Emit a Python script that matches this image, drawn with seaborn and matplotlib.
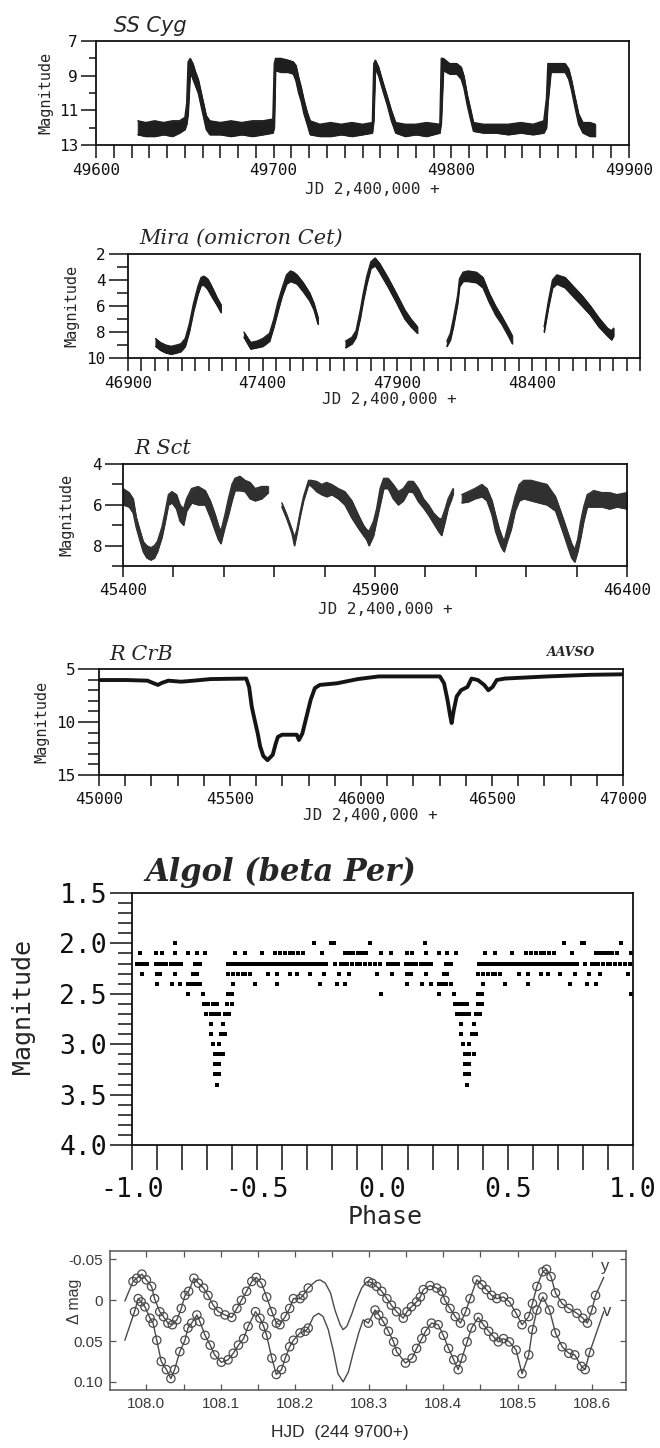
import numpy as np
import pandas as pd
import matplotlib
matplotlib.use("Agg")
import matplotlib.pyplot as plt
import seaborn as sns
from matplotlib.ticker import MultipleLocator, FixedLocator

sns.set_style("ticks")
plt.rcParams['font.family'] = ['DejaVu Sans Mono', 'DejaVu Sans']

# ---------------- DATA ----------------
# SS Cyg : JD, bright edge, faint edge of the scatter band
ss_jd = [49623.5, 49628, 49633, 49638, 49643, 49647, 49650, 49651, 49651.8, 49653, 49654.5, 49656,
         49657.5, 49659, 49660.5, 49662, 49664, 49670, 49676, 49682, 49688, 49694, 49699.5, 49700.3,
         49701, 49704, 49708, 49711, 49712.5, 49714, 49715.5, 49717, 49718.8, 49720.5, 49726, 49732,
         49738, 49744, 49750, 49755.5, 49756.3, 49757.2, 49759, 49761.5, 49763.9, 49766.2, 49768.6,
         49774, 49780, 49786, 49793.5, 49794.3, 49795.5, 49799, 49803, 49805.5, 49807, 49808.9,
         49810.7, 49812.4, 49818, 49825, 49832, 49839, 49846, 49852, 49853.5, 49854.3, 49856, 49860,
         49864, 49866, 49867.5, 49869.3, 49871.6, 49874, 49878, 49881]
ss_bright = [11.6, 11.7, 11.6, 11.7, 11.6, 11.6, 11.4, 10.6, 8.2, 8.0, 8.3, 8.8,
             9.2, 9.9, 10.6, 11.3, 11.6, 11.7, 11.6, 11.7, 11.6, 11.6, 11.5, 8.3,
             8.0, 8.0, 8.1, 8.2, 8.4, 9.1, 9.7, 10.4, 11.1, 11.6, 11.8, 11.7,
             11.8, 11.7, 11.8, 11.7, 8.3, 8.1, 8.5, 9.4, 10.2, 11.0, 11.7,
             11.8, 11.8, 11.7, 11.8, 8.0, 8.0, 8.3, 8.3, 8.5, 9.0, 10.1,
             10.9, 11.7, 11.8, 11.8, 11.8, 11.7, 11.8, 11.6, 10.3, 8.3, 8.3, 8.3,
             8.3, 8.6, 9.2, 10.1, 11.2, 11.7, 11.7, 11.8]
ss_faint = [12.4, 12.5, 12.5, 12.4, 12.5, 12.3, 12.1, 11.8, 11.2, 8.8, 9.2, 9.6,
            10.0, 10.7, 11.4, 12.1, 12.4, 12.4, 12.5, 12.4, 12.5, 12.4, 12.3, 12.0,
            8.7, 8.8, 8.8, 8.9, 9.3, 10.0, 10.5, 11.2, 11.8, 12.4, 12.5, 12.5,
            12.4, 12.5, 12.4, 12.3, 11.6, 8.6, 9.0, 9.9, 10.7, 11.6, 12.3,
            12.5, 12.4, 12.5, 12.3, 11.7, 8.7, 8.9, 8.9, 9.2, 9.7, 10.7,
            11.5, 12.2, 12.3, 12.3, 12.4, 12.3, 12.4, 12.3, 12.0, 10.6, 8.8, 8.8,
            8.8, 9.2, 9.8, 10.7, 11.8, 12.3, 12.5, 12.5]
ss_seg = [0] * len(ss_jd)

# Mira
mira_jd = [47002, 47020, 47040, 47060, 47080, 47096, 47112, 47127, 47143, 47159, 47171, 47182, 47195,
           47206, 47220, 47229, 47245,
           47330, 47355, 47378, 47400, 47425, 47441, 47456, 47472, 47488, 47503, 47515, 47527, 47550,
           47574, 47590, 47605,
           47707, 47731, 47746, 47762, 47773, 47786, 47801, 47817, 47833, 47864, 47895, 47927, 47950, 47974,
           48083, 48096, 48107, 48123, 48130, 48143, 48162, 48193, 48217, 48240, 48264, 48287, 48311, 48326,
           48444, 48460, 48475, 48491, 48522, 48553, 48585, 48616, 48647, 48679, 48694, 48702]
mira_bright = [8.5, 8.8, 9.0, 9.1, 9.0, 8.9, 8.5, 7.4, 5.8, 4.5, 3.8, 3.7, 3.9,
               4.3, 4.9, 5.3, 5.9,
               8.0, 8.8, 8.7, 8.5, 8.1, 7.0, 5.7, 4.6, 3.6, 3.3, 3.4, 3.6, 4.2,
               5.0, 5.8, 6.9,
               8.7, 8.4, 7.9, 6.3, 5.0, 3.7, 2.6, 2.3, 2.7, 3.8, 5.0, 6.3, 7.0, 7.6,
               8.7, 8.1, 7.0, 5.2, 3.9, 3.4, 3.3, 3.4, 3.8, 5.0, 6.0, 6.8, 7.7, 8.3,
               7.6, 5.6, 4.0, 3.6, 3.8, 4.5, 5.2, 6.0, 6.9, 7.7, 7.9, 7.7]
mira_faint = [9.1, 9.4, 9.6, 9.7, 9.6, 9.5, 9.1, 8.0, 6.4, 5.1, 4.4, 4.4, 4.7,
              5.1, 5.6, 5.9, 6.5,
              8.4, 9.3, 9.2, 9.1, 8.7, 7.6, 6.4, 5.2, 4.3, 4.1, 4.2, 4.3, 4.9,
              5.6, 6.3, 7.4,
              9.2, 8.9, 8.4, 6.9, 5.6, 4.3, 3.1, 2.9, 3.4, 4.5, 5.7, 7.0, 7.6, 8.1,
              9.1, 8.6, 7.6, 5.8, 4.5, 4.1, 4.1, 4.2, 4.6, 5.7, 6.7, 7.4, 8.3, 8.9,
              8.0, 6.1, 4.6, 4.3, 4.6, 5.3, 6.0, 6.7, 7.6, 8.3, 8.6, 8.3]
mira_seg = [1] * 17 + [2] * 16 + [3] * 14 + [4] * 14 + [5] * 12

# R Sct
rsct_jd = [45400, 45412, 45420, 45426, 45434, 45440, 45447, 45455, 45462, 45468, 45477, 45483, 45490,
           45497, 45506, 45513, 45520, 45526, 45536, 45549, 45563, 45573, 45583, 45589, 45594, 45602,
           45609, 45616, 45622, 45632, 45642, 45652, 45662, 45675, 45688,
           45715, 45725, 45735, 45740, 45745, 45751, 45758, 45768, 45774, 45784, 45794, 45804, 45814,
           45827, 45840, 45854, 45867, 45877, 45883, 45888, 45897, 45903, 45910, 45917, 45926, 45936,
           45946, 45956, 45966, 45976, 45986, 45996, 46006, 46016, 46026, 46032, 46039, 46045, 46052, 46055,
           46072, 46085, 46098, 46112, 46122, 46132, 46139, 46146, 46151, 46156, 46162, 46170, 46178,
           46186, 46195, 46210, 46225, 46241, 46258, 46268, 46275, 46283, 46290, 46296, 46302, 46308,
           46314, 46321, 46334, 46350, 46365, 46380, 46400]
rsct_bright = [5.2, 5.4, 5.7, 6.6, 7.3, 7.8, 8.0, 8.1, 8.0, 7.8, 7.1, 6.4, 5.5,
               5.35, 5.5, 6.0, 6.2, 5.7, 5.2, 5.1, 5.3, 5.8, 6.5, 7.0, 7.3, 6.5,
               5.7, 5.0, 4.7, 4.6, 4.8, 4.9, 5.2, 5.1, 5.1,
               5.9, 6.5, 7.2, 7.6, 7.2, 6.4, 5.6, 4.8, 4.8, 4.85, 5.0, 4.9, 5.0,
               5.2, 5.35, 5.8, 6.5, 7.0, 7.2, 7.3, 6.8, 6.2, 5.2, 4.7, 4.7, 5.0,
               5.35, 5.2, 4.85, 4.85, 5.2, 5.7, 6.0, 6.4, 6.65, 6.7, 6.2, 5.7, 5.35, 5.2,
               5.5, 5.35, 5.2, 5.0, 5.2, 5.8, 6.5, 7.15, 7.5, 7.8, 7.2, 6.4, 5.6,
               5.0, 4.8, 4.8, 4.9, 5.0, 5.6, 6.3, 6.8, 7.4, 7.9, 8.2, 7.7, 6.8,
               6.1, 5.5, 5.3, 5.4, 5.4, 5.5, 5.4]
rsct_faint = [6.0, 6.1, 6.4, 7.1, 7.8, 8.3, 8.6, 8.7, 8.6, 8.3, 7.6, 6.9, 6.0,
              5.9, 6.2, 6.8, 7.0, 6.3, 5.9, 6.0, 6.0, 6.6, 7.3, 7.7, 7.9, 7.1,
              6.5, 5.8, 5.3, 5.3, 5.35, 5.7, 5.8, 5.7, 5.4,
              6.1, 6.7, 7.4, 8.0, 7.4, 6.6, 5.8, 5.0, 5.1, 5.35, 5.5, 5.6, 5.5,
              5.7, 6.0, 6.65, 7.15, 7.5, 7.7, 8.0, 7.5, 6.8, 6.0, 5.2, 5.2, 5.7,
              6.0, 5.8, 5.35, 5.4, 5.85, 6.15, 6.5, 6.9, 7.3, 7.5, 6.8, 6.15, 5.7, 5.45,
              5.9, 5.85, 5.7, 5.6, 5.8, 6.5, 7.3, 7.8, 8.1, 8.3, 7.8, 7.2, 6.3,
              5.8, 5.7, 5.8, 5.9, 6.0, 6.3, 7.0, 7.5, 8.1, 8.6, 8.8, 8.3, 7.6,
              6.8, 6.1, 6.1, 6.1, 6.2, 6.1, 6.2]
rsct_seg = [1] * 35 + [2] * 40 + [3] * 33

# R CrB
rcrb_jd = [45000, 45104, 45185, 45209, 45225, 45241, 45265, 45313, 45361, 45426, 45562, 45573, 45583,
           45594, 45606, 45615, 45627, 45643, 45663, 45675, 45683, 45699, 45731, 45755, 45763, 45776,
           45792, 45808, 45824, 45843, 45908, 45988, 46068, 46229, 46301, 46317, 46330, 46341, 46346,
           46354, 46365, 46382, 46406, 46422, 46446, 46470, 46486, 46502, 46518, 46550, 46711, 46871, 47000]
rcrb_mag = [6.04, 6.04, 6.1, 6.35, 6.5, 6.3, 6.1, 6.2, 6.1, 5.95, 5.9, 6.7, 8.55,
            9.8, 11.1, 12.3, 13.2, 13.6, 13.1, 12.0, 11.4, 11.2, 11.2, 11.2, 11.7, 11.1,
            9.5, 7.9, 6.8, 6.5, 6.35, 5.95, 5.7, 5.7, 5.7, 6.35, 7.9, 9.5, 10.1,
            8.9, 7.6, 7.0, 6.7, 5.9, 6.04, 6.5, 7.0, 6.7, 6.04, 5.9, 5.7, 5.55, 5.5]

# Algol (one cycle, phase -1..0, folded and shown twice)
algol_p20 = [-0.829, -0.275, -0.205, -0.195, -0.049]
algol_p21 = [-0.967, -0.904, -0.881, -0.828, -0.775, -0.741, -0.708, -0.589, -0.549, -0.482, -0.429,
             -0.409, -0.389, -0.369, -0.356, -0.336, -0.316, -0.242, -0.149, -0.132, -0.116, -0.099,
             -0.082, -0.065, -0.007]
algol_p22 = [-0.980, -0.970, -0.960, -0.950, -0.940, -0.905, -0.895, -0.885, -0.875, -0.866, -0.845,
             -0.835, -0.825, -0.815, -0.805, -0.748, -0.738, -0.728, -0.615, -0.605, -0.595, -0.585,
             -0.575, -0.565, -0.555, -0.545, -0.535, -0.525, -0.515, -0.505, -0.495, -0.485, -0.470,
             -0.460, -0.450, -0.440, -0.430, -0.420, -0.410, -0.400, -0.390, -0.375, -0.365, -0.355,
             -0.345, -0.335, -0.325, -0.315, -0.300, -0.290, -0.280, -0.270, -0.260, -0.250, -0.240,
             -0.225, -0.190, -0.165, -0.150, -0.140, -0.120, -0.100, -0.090, -0.070, -0.050, -0.030,
             -0.010]
algol_p23 = [-0.961, -0.901, -0.888, -0.828, -0.755, -0.741, -0.617, -0.597, -0.577, -0.557, -0.549,
             -0.529, -0.457, -0.421, -0.369, -0.341, -0.290, -0.233, -0.174, -0.133, -0.020]
algol_p24 = [-0.901, -0.841, -0.808, -0.775, -0.760, -0.745, -0.728, -0.597, -0.509, -0.421, -0.250,
             -0.183, -0.149]
algol_p25 = [-0.775, -0.715, -0.617, -0.601, -0.007]
algol_p26 = [-0.711, -0.695, -0.678, -0.661, -0.619, -0.602]
algol_p27 = [-0.703, -0.686, -0.669, -0.653, -0.628, -0.611]
algol_p28 = [-0.686, -0.636]
algol_p29 = [-0.686, -0.644, -0.628]
algol_p30 = [-0.678, -0.653]
algol_p31 = [-0.669, -0.653, -0.636]
algol_p32 = [-0.669, -0.653]
algol_p33 = [-0.669, -0.653]
algol_p34 = [-0.661]
algol_rows = [(2.0, algol_p20), (2.1, algol_p21), (2.2, algol_p22), (2.3, algol_p23), (2.4, algol_p24),
              (2.5, algol_p25), (2.6, algol_p26), (2.7, algol_p27), (2.8, algol_p28), (2.9, algol_p29),
              (3.0, algol_p30), (3.1, algol_p31), (3.2, algol_p32), (3.3, algol_p33), (3.4, algol_p34)]

# delta Scuti type light curves (y and v)
y_obs_hjd = [107.982, 107.987, 107.994, 108.000, 108.007, 108.011, 108.018, 108.023, 108.029, 108.035,
             108.041, 108.047, 108.052, 108.057, 108.064, 108.070, 108.077, 108.083, 108.090, 108.097,
             108.106, 108.115, 108.122, 108.128, 108.135, 108.142, 108.148, 108.155, 108.162, 108.169,
             108.175, 108.180, 108.187, 108.193, 108.198, 108.207, 108.211, 108.218,
             108.299, 108.304, 108.310, 108.317, 108.324, 108.330, 108.337, 108.346, 108.351, 108.357,
             108.364, 108.369, 108.373, 108.382, 108.391, 108.398, 108.402, 108.409, 108.416, 108.423,
             108.430, 108.436, 108.445, 108.452, 108.458, 108.465, 108.472, 108.481, 108.489, 108.498,
             108.506, 108.515, 108.520, 108.526, 108.534, 108.539, 108.545, 108.551, 108.560, 108.569,
             108.580, 108.588, 108.594, 108.600, 108.605]
y_obs_mag = [-0.023, -0.027, -0.032, -0.025, -0.017, -0.002, 0.014, 0.020, 0.028, 0.030,
             0.024, 0.010, -0.006, -0.011, -0.027, -0.021, -0.015, -0.006, 0.006, 0.014,
             0.018, 0.021, 0.010, 0.000, -0.011, -0.023, -0.028, -0.021, -0.004, 0.014,
             0.028, 0.030, 0.020, 0.010, -0.002, -0.002, -0.006, -0.015,
             -0.023, -0.021, -0.017, -0.011, -0.002, 0.006, 0.014, 0.022, 0.014, 0.008,
             0.002, -0.004, -0.013, -0.018, -0.015, -0.011, 0.000, 0.010, 0.020, 0.028,
             0.014, -0.002, -0.025, -0.019, -0.013, -0.006, -0.002, -0.004, 0.002, 0.016,
             0.030, 0.020, 0.004, -0.017, -0.035, -0.038, -0.029, -0.009, 0.004, 0.010,
             0.016, 0.022, 0.028, 0.012, -0.006]
y_fitonly_hjd = [107.971, 108.225, 108.229, 108.234, 108.241, 108.248, 108.254, 108.261, 108.265,
                 108.270, 108.277, 108.283, 108.290, 108.296, 108.616]
y_fitonly_mag = [0.001, -0.021, -0.024, -0.025, -0.021, -0.009, 0.012, 0.030, 0.036,
                 0.032, 0.016, 0.000, -0.015, -0.022, -0.028]

v_obs_hjd = [107.984, 107.989, 107.993, 107.998, 108.005, 108.009, 108.014, 108.020, 108.027, 108.033,
             108.038, 108.045, 108.052, 108.056, 108.061, 108.068, 108.072, 108.079, 108.086, 108.092,
             108.101, 108.110, 108.117, 108.124, 108.131, 108.137, 108.147, 108.153, 108.158, 108.162,
             108.169, 108.175, 108.182, 108.187, 108.193, 108.198, 108.207, 108.214, 108.218,
             108.299, 108.308, 108.313, 108.319, 108.326, 108.333, 108.337, 108.349, 108.358, 108.364,
             108.371, 108.376, 108.384, 108.393, 108.400, 108.407, 108.414, 108.420, 108.425, 108.432,
             108.438, 108.447, 108.454, 108.461, 108.468, 108.474, 108.481, 108.489, 108.498, 108.506,
             108.515, 108.520, 108.526, 108.534, 108.543, 108.551, 108.560, 108.569, 108.577, 108.586,
             108.591, 108.597]
v_obs_mag = [0.014, -0.002, 0.002, 0.008, 0.022, 0.028, 0.049, 0.075, 0.085, 0.096,
             0.085, 0.063, 0.049, 0.034, 0.028, 0.018, 0.026, 0.043, 0.055, 0.067,
             0.076, 0.073, 0.065, 0.055, 0.047, 0.032, 0.014, 0.022, 0.032, 0.043,
             0.071, 0.091, 0.085, 0.071, 0.057, 0.049, 0.040, 0.038, 0.034,
             0.028, 0.012, 0.018, 0.026, 0.038, 0.051, 0.063, 0.077, 0.071, 0.059,
             0.047, 0.038, 0.028, 0.030, 0.043, 0.059, 0.073, 0.085, 0.071, 0.051,
             0.034, 0.021, 0.030, 0.038, 0.045, 0.051, 0.047, 0.051, 0.061, 0.090,
             0.067, 0.036, 0.012, -0.004, 0.012, 0.040, 0.057, 0.065, 0.067, 0.081,
             0.085, 0.064]
v_fitonly_hjd = [107.971, 108.225, 108.232, 108.238, 108.245, 108.252, 108.258, 108.265, 108.272,
                 108.279, 108.286, 108.292, 108.616]
v_fitonly_mag = [0.049, 0.020, 0.016, 0.020, 0.036, 0.063, 0.090, 0.100, 0.088,
                 0.063, 0.040, 0.024, 0.014]

# tick values / labels
ss_xticks = [49600, 49700, 49800, 49900]
ss_yticks = [7, 9, 11, 13]
mira_xticks = [46900, 47400, 47900, 48400]
mira_yticks = [2, 4, 6, 8, 10]
rsct_xticks = [45400, 45900, 46400]
rsct_yticks = [4, 6, 8]
rcrb_xticks = [45000, 45500, 46000, 46500, 47000]
rcrb_yticks = [5, 10, 15]
algol_xticks = [-1.0, -0.5, 0.0, 0.5, 1.0]
algol_xlabels = ['-1.0', '-0.5', '0.0', '0.5', '1.0']
algol_yticks = [1.5, 2.0, 2.5, 3.0, 3.5, 4.0]
algol_ylabels = ['1.5', '2.0', '2.5', '3.0', '3.5', '4.0']
ds_xticks = [108.0, 108.1, 108.2, 108.3, 108.4, 108.5, 108.6]
ds_xlabels = ['108.0', '108.1', '108.2', '108.3', '108.4', '108.5', '108.6']
ds_yticks = [-0.05, 0.0, 0.05, 0.10]
ds_ylabels = ['-0.05', '0', '0.05', '0.10']

# ---------------- FIGURE ----------------
W, H = 660, 1448
fig = plt.figure(figsize=(6.6, 14.48), dpi=100)
fig.patch.set_facecolor('white')


def axes_px(x0, y0, x1, y1):
    return fig.add_axes([x0 / W, 1 - y1 / H, (x1 - x0) / W, (y1 - y0) / H])


def text_px(x, y, s, **kw):
    fig.text(x / W, 1 - y / H, s, **kw)


INK = '#111111'
MONO = 'DejaVu Sans Mono'


def style_old(ax, xlen, ymaj, ymin, fs, xpad=4, ypad=3):
    for sp in ax.spines.values():
        sp.set_linewidth(1.3)
        sp.set_color(INK)
    ax.tick_params(axis='both', which='both', direction='out', colors=INK, width=1.1,
                   labelsize=fs, labelfontfamily=MONO)
    ax.tick_params(axis='x', which='both', length=xlen, pad=xpad)
    ax.tick_params(axis='y', which='major', length=ymaj, pad=ypad)
    ax.tick_params(axis='y', which='minor', length=ymin)
    ax.set_xlabel('')
    ax.set_ylabel('')
    ax.set_facecolor('white')


def draw_band(ax, jd, bright, faint, seg, color):
    df = pd.DataFrame(dict(jd=jd, bright=bright, faint=faint, seg=seg))
    for _, g in df.groupby('seg'):
        ax.fill_between(g['jd'], g['bright'], g['faint'], color=color, lw=0.7, edgecolor=color)
    long = df.melt(id_vars=['jd', 'seg'], value_vars=['bright', 'faint'], var_name='edge', value_name='mag')
    long['unit'] = long['seg'].astype(str) + long['edge']
    sns.lineplot(data=long, x='jd', y='mag', units='unit', estimator=None, color=color,
                 lw=0.9, ax=ax, legend=False)


# ---- Panel 1: SS Cyg
ax1 = axes_px(96, 41, 629, 145)
draw_band(ax1, ss_jd, ss_bright, ss_faint, ss_seg, '#1e1e1e')
ax1.set_xlim(49600, 49900)
ax1.set_ylim(13, 7)
ax1.xaxis.set_major_locator(FixedLocator(ss_xticks))
ax1.xaxis.set_minor_locator(MultipleLocator(10))
ax1.yaxis.set_major_locator(FixedLocator(ss_yticks))
ax1.yaxis.set_minor_locator(MultipleLocator(1))
ax1.set_xticklabels([str(v) for v in ss_xticks])
ax1.set_yticklabels([str(v) for v in ss_yticks])
style_old(ax1, 9, 11, 5, 11.5, xpad=4, ypad=2)
text_px(114, 26, 'SS Cyg', fontsize=15, family='DejaVu Sans', style='oblique', va='center', ha='left')
text_px(46, 93, 'Magnitude', fontsize=11, family=MONO, rotation=90, va='center', ha='center')
text_px(372, 189, 'JD 2,400,000 +', fontsize=11.5, family=MONO, va='center', ha='center')

# ---- Panel 2: Mira
ax2 = axes_px(128, 254, 640, 358)
draw_band(ax2, mira_jd, mira_bright, mira_faint, mira_seg, '#1e1e1e')
ax2.set_xlim(46900, 48800)
ax2.set_ylim(10, 2)
ax2.xaxis.set_major_locator(FixedLocator(mira_xticks))
ax2.xaxis.set_minor_locator(MultipleLocator(50))
ax2.yaxis.set_major_locator(FixedLocator(mira_yticks))
ax2.yaxis.set_minor_locator(MultipleLocator(1))
ax2.set_xticklabels([str(v) for v in mira_xticks])
ax2.set_yticklabels([str(v) for v in mira_yticks])
style_old(ax2, 9, 14, 8, 11.5, xpad=4, ypad=2)
text_px(139, 238, 'Mira (omicron Cet)', fontsize=15, family='DejaVu Serif', style='italic',
        va='center', ha='left')
text_px(72, 306, 'Magnitude', fontsize=11, family=MONO, rotation=90, va='center', ha='center')
text_px(389, 400, 'JD 2,400,000 +', fontsize=11.5, family=MONO, va='center', ha='center')

# ---- Panel 3: R Sct
ax3 = axes_px(123, 464, 627, 566)
draw_band(ax3, rsct_jd, rsct_bright, rsct_faint, rsct_seg, '#303030')
ax3.set_xlim(45400, 46400)
ax3.set_ylim(9, 4)
ax3.xaxis.set_major_locator(FixedLocator(rsct_xticks))
ax3.xaxis.set_minor_locator(MultipleLocator(100))
ax3.yaxis.set_major_locator(FixedLocator(rsct_yticks))
ax3.yaxis.set_minor_locator(MultipleLocator(1))
ax3.set_xticklabels([str(v) for v in rsct_xticks])
ax3.set_yticklabels([str(v) for v in rsct_yticks])
style_old(ax3, 8, 13, 8, 11.5, xpad=4, ypad=2)
text_px(134, 449, 'R Sct', fontsize=15, family='DejaVu Serif', style='italic',
        va='center', ha='left')
text_px(67, 515, 'Magnitude', fontsize=11, family=MONO, rotation=90, va='center', ha='center')
text_px(385, 609, 'JD 2,400,000 +', fontsize=11.5, family=MONO, va='center', ha='center')

# ---- Panel 4: R CrB
ax4 = axes_px(99, 669, 623, 775)
sns.lineplot(x=rcrb_jd, y=rcrb_mag, estimator=None, color='#151515', lw=2.8, ax=ax4)
ax4.set_xlim(45000, 47000)
ax4.set_ylim(15, 5)
ax4.xaxis.set_major_locator(FixedLocator(rcrb_xticks))
ax4.xaxis.set_minor_locator(MultipleLocator(100))
ax4.yaxis.set_major_locator(FixedLocator(rcrb_yticks))
ax4.yaxis.set_minor_locator(MultipleLocator(1))
ax4.set_xticklabels([str(v) for v in rcrb_xticks])
ax4.set_yticklabels([str(v) for v in rcrb_yticks])
style_old(ax4, 8, 15, 8, 11.5, xpad=4, ypad=2)
text_px(109, 655, 'R CrB', fontsize=15, family='DejaVu Serif', style='italic',
        va='center', ha='left')
text_px(547, 652, 'AAVSO', fontsize=9, family='DejaVu Serif', style='italic', weight='bold',
        va='center', ha='left')
text_px(42, 722, 'Magnitude', fontsize=11, family=MONO, rotation=90, va='center', ha='center')
text_px(370, 815, 'JD 2,400,000 +', fontsize=11.5, family=MONO, va='center', ha='center')

# ---- Panel 5: Algol
ax5 = axes_px(132, 893, 633, 1145)
ph, mg = [], []
for m, plist in algol_rows:
    for p in plist:
        ph += [p, p + 1.0]
        mg += [m, m]
alg = pd.DataFrame(dict(phase=ph, mag=mg))
sns.scatterplot(data=alg, x='phase', y='mag', marker='s', s=8, color='black', linewidth=0, ax=ax5)
ax5.set_xlim(-1.0, 1.0)
ax5.set_ylim(4.0, 1.5)
ax5.xaxis.set_major_locator(FixedLocator(algol_xticks))
ax5.xaxis.set_minor_locator(MultipleLocator(0.1))
ax5.yaxis.set_major_locator(FixedLocator(algol_yticks))
ax5.yaxis.set_minor_locator(MultipleLocator(0.1))
ax5.set_xticklabels(algol_xlabels)
ax5.set_yticklabels(algol_ylabels)
style_old(ax5, 18, 16, 10, 19, xpad=5, ypad=2)
text_px(145, 872, 'Algol (beta Per)', fontsize=22, family='DejaVu Serif', style='italic', weight='bold',
        va='center', ha='left')
text_px(23, 1007, 'Magnitude', fontsize=18, family=MONO, rotation=90, va='center', ha='center')
text_px(385, 1217, 'Phase', fontsize=18, family=MONO, va='center', ha='center')

# ---- Panel 6: y and v light curves
ax6 = axes_px(110, 1251, 626, 1390)
GR = '#4a4a4a'
yfit = pd.DataFrame(dict(hjd=y_obs_hjd + y_fitonly_hjd, mag=y_obs_mag + y_fitonly_mag)).sort_values('hjd')
vfit = pd.DataFrame(dict(hjd=v_obs_hjd + v_fitonly_hjd, mag=v_obs_mag + v_fitonly_mag)).sort_values('hjd')
sns.lineplot(data=yfit, x='hjd', y='mag', estimator=None, color=GR, lw=1.0, ax=ax6)
sns.lineplot(data=vfit, x='hjd', y='mag', estimator=None, color=GR, lw=1.0, ax=ax6)
sns.scatterplot(x=y_obs_hjd, y=y_obs_mag, marker='o', s=36, facecolors='none', edgecolor=GR,
                linewidth=0.9, ax=ax6)
sns.scatterplot(x=v_obs_hjd, y=v_obs_mag, marker='o', s=36, facecolors='none', edgecolor=GR,
                linewidth=0.9, ax=ax6)
ax6.set_xlim(107.951, 108.646)
ax6.set_ylim(0.110, -0.0604)
ax6.xaxis.set_major_locator(FixedLocator(ds_xticks))
ax6.xaxis.set_minor_locator(MultipleLocator(0.05))
ax6.yaxis.set_major_locator(FixedLocator(ds_yticks))
ax6.set_xticklabels(ds_xlabels)
ax6.set_yticklabels(ds_ylabels)
for sp in ax6.spines.values():
    sp.set_linewidth(1.1)
    sp.set_color('#555555')
ax6.tick_params(axis='both', which='both', direction='in', length=4, width=0.9, colors='#555555',
                labelcolor='#3a3a3a', labelsize=11, top=True, right=True,
                labelfontfamily='Liberation Sans', pad=5)
ax6.set_xlabel('')
ax6.set_ylabel('')
text_px(74, 1301, '\u0394 mag', fontsize=11.5, family='Liberation Sans', color='#3a3a3a', rotation=90,
        va='center', ha='center')
text_px(340, 1433, 'HJD  (244 9700+)', fontsize=12.5, family='Liberation Sans', color='#2a2a2a',
        va='center', ha='center')
text_px(605, 1267, 'y', fontsize=12, family='Liberation Sans', color='#3a3a3a', va='center', ha='center')
text_px(607, 1312, 'v', fontsize=12, family='Liberation Sans', color='#3a3a3a', va='center', ha='center')

fig.savefig('out.png', dpi=100, facecolor='white')
